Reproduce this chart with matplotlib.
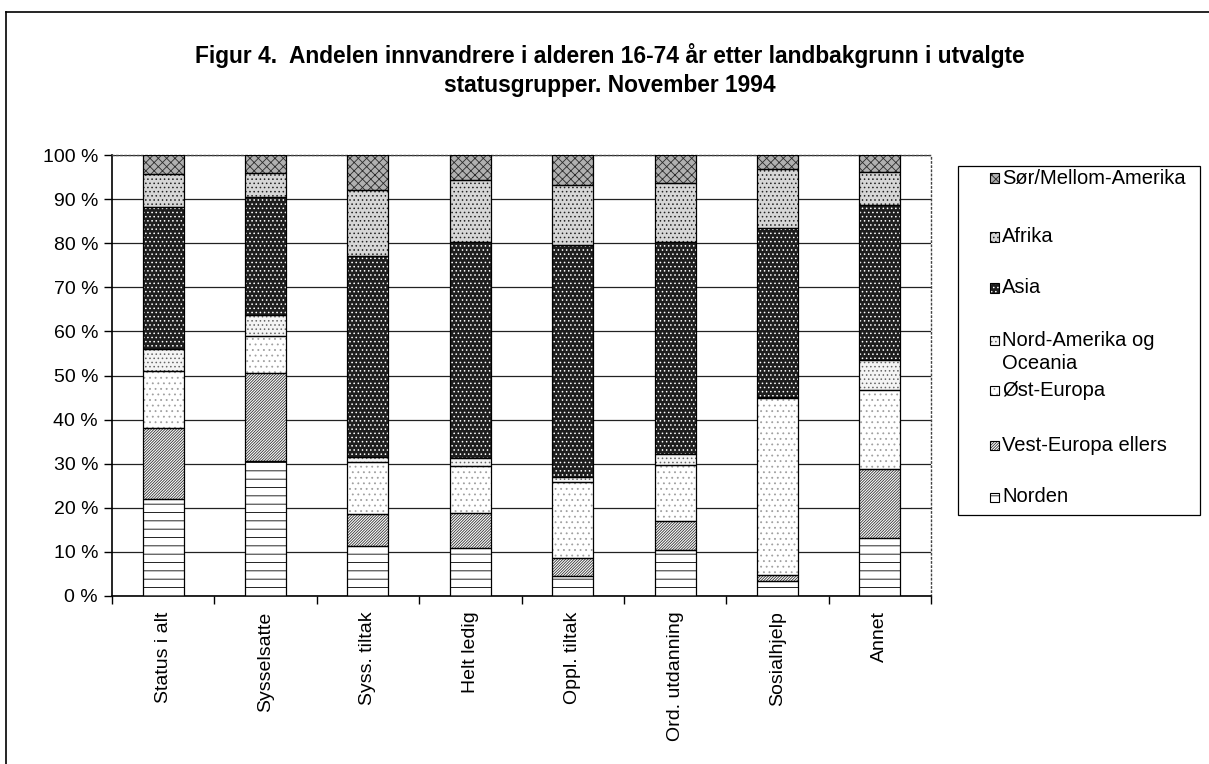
import matplotlib
matplotlib.use("Agg")
import matplotlib.pyplot as plt
from matplotlib.lines import Line2D
from matplotlib.patches import Rectangle
import numpy as np

plt.rcParams['font.family'] = ['Liberation Sans', 'DejaVu Sans']
plt.rcParams['hatch.linewidth'] = 0.6

categories = ["Status i alt", "Sysselsatte", "Syss. tiltak", "Helt ledig",
              "Oppl. tiltak", "Ord. utdanning", "Sosialhjelp", "Annet"]

norden      = [22.0, 30.7, 11.4, 10.8, 4.5, 10.4, 3.4, 13.1]
vest_europa = [16.1, 19.9, 7.2, 8.1, 4.1, 6.6, 1.3, 15.7]
ost_europa  = [12.9, 8.3, 11.7, 10.6, 17.3, 12.8, 40.1, 17.9]
nord_am     = [4.9, 4.8, 1.3, 1.8, 1.1, 2.4, 0.4, 6.8]
asia        = [32.3, 26.8, 45.4, 48.9, 52.5, 48.0, 38.3, 35.1]
afrika      = [7.6, 5.4, 15.0, 14.1, 13.6, 13.5, 13.4, 7.5]
sor_mellom  = [4.2, 4.1, 8.0, 5.7, 6.9, 6.3, 3.1, 3.9]

series_labels = ["Norden", "Vest-Europa ellers", "Øst-Europa",
                 "Nord-Amerika og\nOceania", "Asia", "Afrika", "Sør/Mellom-Amerika"]
series_values = [norden, vest_europa, ost_europa, nord_am, asia, afrika, sor_mellom]
ytick_labels = ["0 %", "10 %", "20 %", "30 %", "40 %", "50 %",
                "60 %", "70 %", "80 %", "90 %", "100 %"]

# (face, hatch, hatch colour)
styles = [
    ("white", "--", "black"),
    ("white", "////////////", "#333333"),
    ("white", "...", "#a0a0a0"),
    ("#f4f4f4", "....", "#666666"),
    ("#1e1e1e", "....", "white"),
    ("#d6d6d6", "....", "#222222"),
    ("#b0b0b0", "xxxx", "#2a2a2a"),
]

W, H = 1209, 764
fig = plt.figure(figsize=(W / 100, H / 100), dpi=100)
ax = fig.add_axes([112 / W, 1 - 596 / H, (931 - 112) / W, (596 - 155) / H])

x = np.arange(len(categories))
bw = 0.4
bottom = np.zeros(len(categories))
for vals, (fc, hatch, hc) in zip(series_values, styles):
    vals = np.array(vals)
    ax.bar(x, vals, bw, bottom=bottom, color=fc, hatch=hatch, edgecolor=hc,
           linewidth=0, zorder=3)
    ax.bar(x, vals, bw, bottom=bottom, fill=False, edgecolor="black",
           linewidth=0.9, zorder=4)
    bottom += vals

ax.set_xlim(-0.5, len(categories) - 0.5)
ax.set_ylim(0, 100)
ax.set_yticks(np.arange(0, 101, 10))
ax.set_yticklabels(ytick_labels, fontsize=14)
ax.set_xticks(x)
ax.set_xticklabels(categories, rotation=90, fontsize=14, va="top", ha="center")
ax.set_xticks(np.arange(-0.5, len(categories), 1.0), minor=True)
ax.tick_params(axis="x", which="major", length=0, pad=11)
ax.tick_params(axis="x", which="minor", length=6, width=1, direction="out")
ax.tick_params(axis="y", length=6, width=1, direction="out", pad=4)
ax.yaxis.grid(True, color="#222222", linewidth=0.9, zorder=1)
ax.set_axisbelow(True)
for s in ["left", "bottom"]:
    ax.spines[s].set_linewidth(1.2)
    ax.spines[s].set_color("black")
for s in ["top", "right"]:
    ax.spines[s].set_linestyle((0, (1, 2)))
    ax.spines[s].set_color("#444444")
    ax.spines[s].set_linewidth(1.0)

# Legend (drawn as figure artists, reversed order like the original)
def fx(px):
    return px / W

def fy(py):
    return 1 - py / H

fig.add_artist(Rectangle((fx(958), fy(515)), fx(1200) - fx(958), fy(166) - fy(515),
                         transform=fig.transFigure, fill=False,
                         edgecolor="black", linewidth=0.9))
entry_y = [178, 237, 288, 340, 390, 445, 497]
sq = 9
for yc, lab, (fc, hatch, hc) in zip(entry_y, series_labels[::-1], styles[::-1]):
    r0 = (fx(990), fy(yc + sq / 2))
    fig.add_artist(Rectangle(r0, sq / W, sq / H, transform=fig.transFigure,
                             facecolor=fc, hatch=hatch, edgecolor=hc, linewidth=0))
    fig.add_artist(Rectangle(r0, sq / W, sq / H, transform=fig.transFigure,
                             fill=False, edgecolor="black", linewidth=0.8))
    for k, line in enumerate(lab.split("\n")):
        fig.text(fx(1002), fy(yc + 23 * k), line, ha="left", va="center",
                 fontsize=14.5)

fig.text(fx(610), fy(70),
         "Figur 4.  Andelen innvandrere i alderen 16-74 år etter landbakgrunn i utvalgte\nstatusgrupper. November 1994",
         ha="center", va="center", fontsize=16.4, fontweight="bold", linespacing=1.3)

fig.add_artist(Line2D([6 / W, 1.0], [1 - 12 / H, 1 - 12 / H], color="black", linewidth=1.2))
fig.add_artist(Line2D([6 / W, 6 / W], [0.0, 1 - 12 / H], color="black", linewidth=1.2))

fig.savefig("out.png", dpi=100)
